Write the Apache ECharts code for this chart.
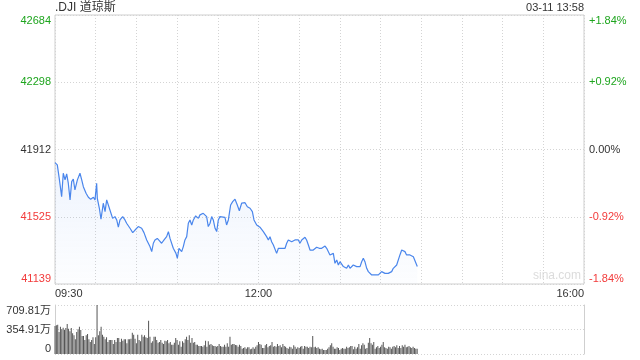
<!DOCTYPE html>
<html><head><meta charset="utf-8">
<script src="https://cdn.jsdelivr.net/npm/echarts@6/dist/echarts.min.js"></script>
<style>html,body{margin:0;padding:0;background:#fff}#c{width:640px;height:360px}</style>
</head><body><div id="c"></div>
<script>
// ---- data ----
const titleText = '.DJI 道琼斯';
const stampText = '03-11 13:58';
const timeTicks = ['09:30', '12:00', '16:00'];       // minutes 0, 150, 390 after open
const timeTickMinutes = [0, 150, 390];
const priceTicks = ['41139', '41525', '41912', '42298', '42684'];
const pctTicks = ['-1.84%', '-0.92%', '0.00%', '+0.92%', '+1.84%'];
const volTicks = ['0', '354.91万', '709.81万'];
const priceMin = 41139, priceMax = 42684, volMax = 709.81;

const lineMinutes = [0,1.7,3.2,4.9,6.1,7.4,8.6,9.8,11.1,12.3,13.5,14.7,16.5,18.4,19.7,20.9,22.9,24.6,26.3,28.3,29.5,30.7,31.2,32.7,33.9,35.6,36.9,38.1,39.3,40.5,42.5,44.2,45.5,46.7,47.9,49.9,51.6,52.8,55.3,57.3,59.0,61.4,63.9,65.6,67.6,70.0,71.3,72.5,73.7,75.4,76.9,78.6,80.4,82.3,83.6,84.8,87.2,89.2,90.2,91.4,93.4,94.6,95.8,97.1,98.3,99.5,100.8,102.0,103.7,105.7,106.9,109.3,111.8,113.0,114.3,115.5,116.7,118.0,119.2,120.4,121.6,122.9,125.3,126.5,127.8,129.5,131.0,132.7,134.4,135.9,137.6,140.1,141.8,143.8,145.5,146.7,148.7,151.1,153.6,156.0,157.3,158.5,159.7,161.0,162.2,163.4,164.7,165.9,167.1,168.3,169.6,170.8,172.0,173.3,174.5,175.7,176.9,178.2,179.4,180.6,181.9,183.1,184.3,185.5,186.8,188.0,189.2,190.4,191.7,192.9,194.8,196.6,199.1,200.3,202.7,204.0,205.2,206.4,207.7,208.9,210.1,211.3,212.6,213.8,215.0,216.3,217.5,218.7,219.9,221.2,222.4,223.6,224.9,226.1,227.3,228.5,229.8,231.0,232.2,233.5,234.7,235.9,237.1,238.4,239.6,240.8,242.0,243.3,244.5,245.7,247.0,248.2,249.4,250.7,251.9,253.1,254.3,255.6,256.8,258.0,259.2,260.5,261.7,262.9,264.2,265.4,267.1];
const linePrices = [41836,41823,41741,41641,41775,41737,41771,41718,41622,41727,41741,41679,41737,41775,41737,41698,41660,41637,41626,41637,41622,41718,41631,41574,41511,41603,41555,41622,41631,41564,41516,41526,41507,41465,41507,41526,41507,41488,41459,41434,41449,41469,41459,41434,41392,41354,41325,41373,41392,41401,41388,41373,41392,41411,41440,41401,41344,41315,41287,41344,41325,41354,41392,41411,41488,41507,41478,41507,41530,41516,41536,41545,41526,41469,41488,41526,41507,41459,41440,41507,41526,41536,41522,41478,41507,41593,41612,41626,41593,41560,41603,41606,41583,41574,41555,41507,41478,41465,41440,41411,41392,41411,41382,41363,41354,41315,41344,41354,41344,41354,41344,41373,41392,41382,41382,41392,41392,41382,41392,41373,41392,41401,41407,41392,41363,41334,41325,41334,41344,41350,41344,41344,41357,41344,41306,41296,41315,41258,41277,41248,41267,41258,41239,41248,41229,41248,41229,41239,41248,41239,41239,41248,41239,41267,41287,41267,41229,41210,41200,41191,41181,41191,41181,41191,41200,41210,41210,41200,41210,41200,41191,41210,41229,41239,41248,41258,41306,41334,41344,41325,41306,41315,41306,41315,41296,41287,41239];
// volume per minute, in 万
const volumes = [406,415,425,319,396,357,380,348,377,435,
367,330,377,299,270,213,319,357,396,348,
261,261,203,270,290,213,174,203,242,145,
242,710,270,328,396,280,251,213,242,174,
203,203,203,145,203,174,232,232,174,222,
193,213,213,155,213,213,222,309,280,222,
155,280,203,184,280,251,270,242,230,483,
251,164,184,251,251,203,164,174,203,164,
145,193,184,203,155,174,135,135,164,232,
203,135,184,106,184,164,213,251,203,270,
164,232,164,174,135,135,116,116,116,106,
126,193,106,184,135,145,126,116,116,106,
116,145,116,106,106,135,106,155,106,251,
135,145,145,130,
126,106,135,116,77,87,97,77,97,97,
68,77,97,77,106,126,174,145,135,87,
87,126,145,97,116,126,174,106,116,106,
145,116,126,97,145,116,106,87,77,106,
97,77,126,106,77,97,87,106,116,77,
116,106,106,87,106,97,261,97,106,87,
97,77,68,77,58,58,58,77,97,126,
155,106,77,77,97,87,58,77,87,77,
77,106,87,97,116,116,68,106,77,97,
145,77,126,155,135,77,87,164,232,155,
135,174,77,97,116,87,106,135,174,97,
87,77,106,97,77,106,116,97,126,87,
116,87,126,106,135,97,106,116,97,87,
106,87,77,77];

// ---- chart ----
const FONT = '"Liberation Sans", Arial, "Noto Sans CJK SC", sans-serif';
const GREEN = '#1ea51e', RED = '#f23a3a', DARK = '#333';
const priceStep = (priceMax - priceMin) / 4;
const volStep = volMax / 2;
const tickColor = i => (i > 2 ? GREEN : (i < 2 ? RED : DARK));
const gridDot = { show: true, lineStyle: { color: '#d4d4d4', type: [1, 2], width: 1 } };

const chart = echarts.init(document.getElementById('c'), null, { renderer: 'canvas' });
chart.setOption({
  animation: false,
  textStyle: { fontFamily: FONT },
  grid: [
    { left: 55, right: 56, top: 15, height: 269, show: true, borderColor: '#cfcfcf', borderWidth: 1 },
    { left: 55, right: 56, top: 305, height: 49 }
  ],
  graphic: [
    { type: 'text', left: 55, top: 2, style: { text: titleText, fontSize: 12, fill: DARK, fontFamily: FONT } },
    { type: 'text', right: 56, top: 2, style: { text: stampText, fontSize: 11, fill: DARK, fontFamily: FONT } },
    { type: 'text', left: 533, top: 270, style: { text: 'sina.com', fontSize: 12, fill: '#dcdcdc', fontFamily: FONT } }
  ],
  xAxis: [
    { type: 'value', gridIndex: 0, min: 0, max: 390, interval: 30,
      axisLine: { show: false }, axisTick: { show: false },
      splitLine: gridDot,
      axisLabel: { color: DARK, fontSize: 11, margin: 4, showMinLabel: true, showMaxLabel: true,
        alignMinLabel: 'left', alignMaxLabel: 'right',
        formatter: v => { const k = timeTickMinutes.indexOf(Math.round(v)); return k >= 0 ? timeTicks[k] : ''; } } },
    { type: 'value', gridIndex: 1, min: 0, max: 390, interval: 30,
      axisLine: { show: false }, axisTick: { show: false }, axisLabel: { show: false }, splitLine: { show: false } }
  ],
  yAxis: [
    { type: 'value', gridIndex: 0, min: 0, max: priceMax - priceMin, interval: priceStep,
      axisLine: { show: false }, axisTick: { show: false }, splitLine: gridDot,
      axisLabel: { fontSize: 11, margin: 4, verticalAlignMinLabel: 'bottom', verticalAlignMaxLabel: 'top',
        formatter: v => priceTicks[Math.round(v / priceStep)],
        color: (v, i) => tickColor(Math.round(Number(v) / priceStep)) } },
    { type: 'value', gridIndex: 0, min: 0, max: priceMax - priceMin, interval: priceStep, position: 'right',
      axisLine: { show: false }, axisTick: { show: false }, splitLine: { show: false },
      axisLabel: { fontSize: 11, margin: 5, verticalAlignMinLabel: 'bottom', verticalAlignMaxLabel: 'top',
        formatter: v => pctTicks[Math.round(v / priceStep)],
        color: (v, i) => tickColor(Math.round(Number(v) / priceStep)) } },
    { type: 'value', gridIndex: 1, min: 0, max: volMax, interval: volStep,
      axisLine: { show: true, lineStyle: { color: '#cfcfcf' } }, axisTick: { show: false }, splitLine: gridDot,
      axisLabel: { fontSize: 11, margin: 4, color: DARK, verticalAlignMinLabel: 'bottom', verticalAlignMaxLabel: 'top',
        formatter: v => volTicks[Math.round(v / volStep)] } },
    { type: 'value', gridIndex: 1, min: 0, max: volMax, interval: volStep, position: 'right',
      axisLine: { show: true, lineStyle: { color: '#cfcfcf' } }, axisTick: { show: false },
      splitLine: { show: false }, axisLabel: { show: false } }
  ],
  series: [
    { type: 'line', xAxisIndex: 0, yAxisIndex: 0, showSymbol: false, symbol: 'none',
      lineStyle: { color: '#4a86ec', width: 1.2 },
      areaStyle: { color: new echarts.graphic.LinearGradient(0, 0, 0, 1, [
        { offset: 0, color: 'rgba(74,134,236,0.13)' }, { offset: 1, color: 'rgba(74,134,236,0.02)' }]) },
      data: lineMinutes.map((t, i) => [t, linePrices[i] - priceMin]) },
    { type: 'bar', xAxisIndex: 1, yAxisIndex: 2, barWidth: 1, itemStyle: { color: '#555' },
      data: volumes.map((v, i) => [i, v]) }
  ]
});
</script></body></html>
